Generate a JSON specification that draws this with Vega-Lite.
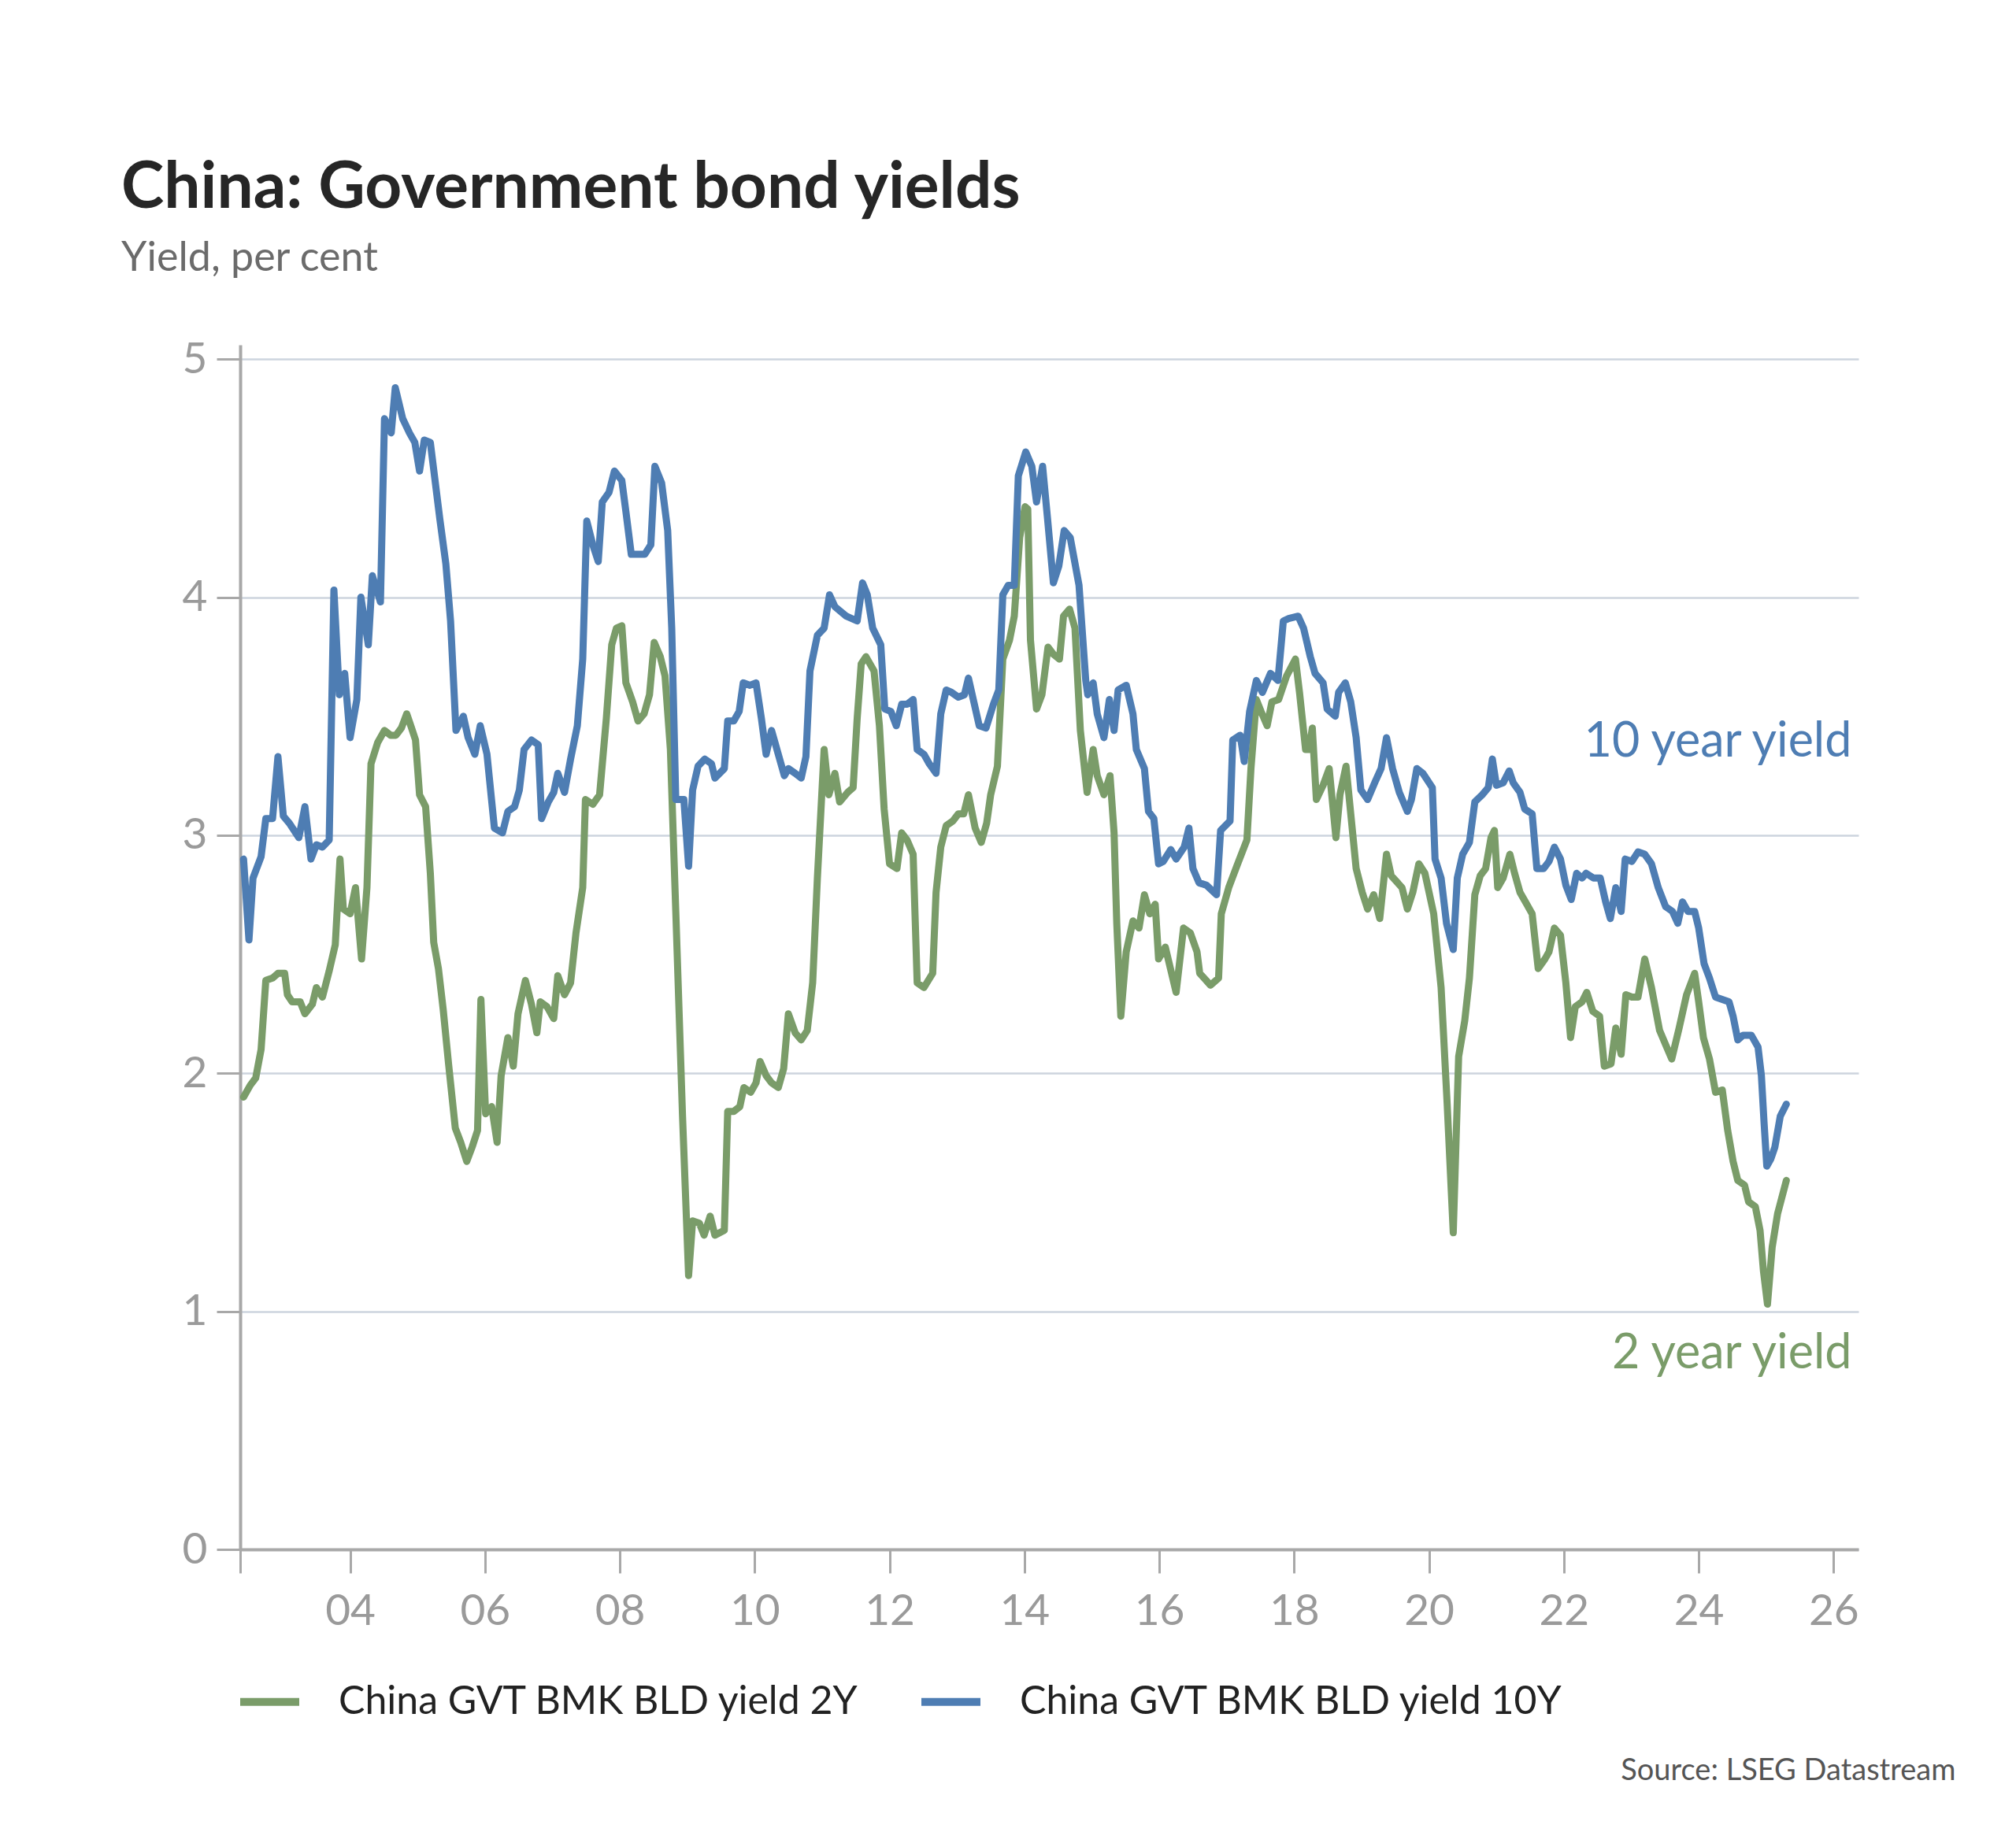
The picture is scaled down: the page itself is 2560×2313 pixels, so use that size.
{
"$schema":"https://vega.github.io/schema/vega-lite/v6.json",
"width":2055,"height":1530,
"autosize":{"type":"none"},
"padding":{"left":305,"top":438,"right":200,"bottom":345},
"background":"white",
"title":{"text":"China: Government bond yields","subtitle":"Yield, per cent","anchor":"start","dx":-77,"offset":74,"font":"Lato","fontSize":82,"fontWeight":"bold","color":"#262626","subtitleFont":"Lato","subtitleFontSize":52,"subtitleColor":"#6b6b6b","subtitlePadding":22},
"config":{"view":{"stroke":null}},
"datasets":{
"yields":[
{"series":"2Y","year":2002.42,"value":1.90},{"series":"2Y","year":2002.52,"value":1.95},{"series":"2Y","year":2002.60,"value":1.98},{"series":"2Y","year":2002.68,"value":2.10},{"series":"2Y","year":2002.75,"value":2.39},{"series":"2Y","year":2002.85,"value":2.40},{"series":"2Y","year":2002.93,"value":2.42},{"series":"2Y","year":2003.03,"value":2.42},{"series":"2Y","year":2003.07,"value":2.33},{"series":"2Y","year":2003.14,"value":2.30},{"series":"2Y","year":2003.26,"value":2.30},{"series":"2Y","year":2003.33,"value":2.25},{"series":"2Y","year":2003.44,"value":2.29},{"series":"2Y","year":2003.50,"value":2.36},{"series":"2Y","year":2003.59,"value":2.32},{"series":"2Y","year":2003.69,"value":2.43},{"series":"2Y","year":2003.78,"value":2.54},{"series":"2Y","year":2003.85,"value":2.90},{"series":"2Y","year":2003.90,"value":2.69},{"series":"2Y","year":2004.00,"value":2.67},{"series":"2Y","year":2004.08,"value":2.78},{"series":"2Y","year":2004.17,"value":2.48},{"series":"2Y","year":2004.25,"value":2.78},{"series":"2Y","year":2004.31,"value":3.30},{"series":"2Y","year":2004.41,"value":3.39},{"series":"2Y","year":2004.51,"value":3.44},{"series":"2Y","year":2004.60,"value":3.42},{"series":"2Y","year":2004.68,"value":3.42},{"series":"2Y","year":2004.76,"value":3.45},{"series":"2Y","year":2004.84,"value":3.51},{"series":"2Y","year":2004.90,"value":3.46},{"series":"2Y","year":2004.97,"value":3.40},{"series":"2Y","year":2005.03,"value":3.17},{"series":"2Y","year":2005.12,"value":3.12},{"series":"2Y","year":2005.19,"value":2.84},{"series":"2Y","year":2005.24,"value":2.55},{"series":"2Y","year":2005.31,"value":2.44},{"series":"2Y","year":2005.38,"value":2.27},{"series":"2Y","year":2005.46,"value":2.04},{"series":"2Y","year":2005.56,"value":1.77},{"series":"2Y","year":2005.64,"value":1.71},{"series":"2Y","year":2005.73,"value":1.63},{"series":"2Y","year":2005.81,"value":1.69},{"series":"2Y","year":2005.89,"value":1.76},{"series":"2Y","year":2005.94,"value":2.31},{"series":"2Y","year":2006.01,"value":1.83},{"series":"2Y","year":2006.10,"value":1.86},{"series":"2Y","year":2006.18,"value":1.71},{"series":"2Y","year":2006.24,"value":1.99},{"series":"2Y","year":2006.34,"value":2.15},{"series":"2Y","year":2006.42,"value":2.03},{"series":"2Y","year":2006.49,"value":2.25},{"series":"2Y","year":2006.60,"value":2.39},{"series":"2Y","year":2006.69,"value":2.29},{"series":"2Y","year":2006.77,"value":2.17},{"series":"2Y","year":2006.82,"value":2.30},{"series":"2Y","year":2006.92,"value":2.28},{"series":"2Y","year":2007.02,"value":2.23},{"series":"2Y","year":2007.08,"value":2.41},{"series":"2Y","year":2007.18,"value":2.33},{"series":"2Y","year":2007.27,"value":2.38},{"series":"2Y","year":2007.35,"value":2.59},{"series":"2Y","year":2007.45,"value":2.78},{"series":"2Y","year":2007.49,"value":3.15},{"series":"2Y","year":2007.60,"value":3.13},{"series":"2Y","year":2007.70,"value":3.17},{"series":"2Y","year":2007.80,"value":3.49},{"series":"2Y","year":2007.88,"value":3.80},{"series":"2Y","year":2007.95,"value":3.87},{"series":"2Y","year":2008.03,"value":3.88},{"series":"2Y","year":2008.09,"value":3.64},{"series":"2Y","year":2008.19,"value":3.56},{"series":"2Y","year":2008.27,"value":3.48},{"series":"2Y","year":2008.36,"value":3.51},{"series":"2Y","year":2008.44,"value":3.59},{"series":"2Y","year":2008.51,"value":3.81},{"series":"2Y","year":2008.60,"value":3.75},{"series":"2Y","year":2008.67,"value":3.67},{"series":"2Y","year":2008.75,"value":3.36},{"series":"2Y","year":2008.83,"value":2.68},{"series":"2Y","year":2008.93,"value":1.82},{"series":"2Y","year":2009.02,"value":1.15},{"series":"2Y","year":2009.08,"value":1.38},{"series":"2Y","year":2009.18,"value":1.37},{"series":"2Y","year":2009.25,"value":1.32},{"series":"2Y","year":2009.34,"value":1.40},{"series":"2Y","year":2009.41,"value":1.32},{"series":"2Y","year":2009.55,"value":1.34},{"series":"2Y","year":2009.60,"value":1.84},{"series":"2Y","year":2009.69,"value":1.84},{"series":"2Y","year":2009.78,"value":1.86},{"series":"2Y","year":2009.84,"value":1.94},{"series":"2Y","year":2009.94,"value":1.92},{"series":"2Y","year":2010.02,"value":1.96},{"series":"2Y","year":2010.08,"value":2.05},{"series":"2Y","year":2010.17,"value":1.99},{"series":"2Y","year":2010.25,"value":1.96},{"series":"2Y","year":2010.35,"value":1.94},{"series":"2Y","year":2010.43,"value":2.02},{"series":"2Y","year":2010.50,"value":2.25},{"series":"2Y","year":2010.60,"value":2.17},{"series":"2Y","year":2010.69,"value":2.14},{"series":"2Y","year":2010.78,"value":2.18},{"series":"2Y","year":2010.86,"value":2.38},{"series":"2Y","year":2010.93,"value":2.82},{"series":"2Y","year":2011.03,"value":3.36},{"series":"2Y","year":2011.10,"value":3.17},{"series":"2Y","year":2011.19,"value":3.26},{"series":"2Y","year":2011.26,"value":3.14},{"series":"2Y","year":2011.38,"value":3.18},{"series":"2Y","year":2011.46,"value":3.20},{"series":"2Y","year":2011.52,"value":3.49},{"series":"2Y","year":2011.58,"value":3.72},{"series":"2Y","year":2011.65,"value":3.75},{"series":"2Y","year":2011.77,"value":3.69},{"series":"2Y","year":2011.85,"value":3.46},{"series":"2Y","year":2011.92,"value":3.11},{"series":"2Y","year":2012.00,"value":2.88},{"series":"2Y","year":2012.11,"value":2.86},{"series":"2Y","year":2012.18,"value":3.01},{"series":"2Y","year":2012.26,"value":2.98},{"series":"2Y","year":2012.35,"value":2.92},{"series":"2Y","year":2012.41,"value":2.38},{"series":"2Y","year":2012.51,"value":2.36},{"series":"2Y","year":2012.64,"value":2.42},{"series":"2Y","year":2012.69,"value":2.76},{"series":"2Y","year":2012.76,"value":2.95},{"series":"2Y","year":2012.84,"value":3.04},{"series":"2Y","year":2012.94,"value":3.06},{"series":"2Y","year":2013.02,"value":3.09},{"series":"2Y","year":2013.10,"value":3.09},{"series":"2Y","year":2013.17,"value":3.17},{"series":"2Y","year":2013.27,"value":3.03},{"series":"2Y","year":2013.36,"value":2.97},{"series":"2Y","year":2013.44,"value":3.05},{"series":"2Y","year":2013.50,"value":3.17},{"series":"2Y","year":2013.60,"value":3.29},{"series":"2Y","year":2013.68,"value":3.74},{"series":"2Y","year":2013.78,"value":3.82},{"series":"2Y","year":2013.85,"value":3.92},{"series":"2Y","year":2013.93,"value":4.25},{"series":"2Y","year":2014.01,"value":4.38},{"series":"2Y","year":2014.05,"value":4.37},{"series":"2Y","year":2014.09,"value":3.82},{"series":"2Y","year":2014.18,"value":3.53},{"series":"2Y","year":2014.26,"value":3.59},{"series":"2Y","year":2014.35,"value":3.79},{"series":"2Y","year":2014.43,"value":3.76},{"series":"2Y","year":2014.52,"value":3.74},{"series":"2Y","year":2014.58,"value":3.92},{"series":"2Y","year":2014.67,"value":3.95},{"series":"2Y","year":2014.75,"value":3.87},{"series":"2Y","year":2014.83,"value":3.44},{"series":"2Y","year":2014.93,"value":3.18},{"series":"2Y","year":2015.02,"value":3.36},{"series":"2Y","year":2015.08,"value":3.25},{"series":"2Y","year":2015.18,"value":3.17},{"series":"2Y","year":2015.27,"value":3.25},{"series":"2Y","year":2015.33,"value":3.01},{"series":"2Y","year":2015.37,"value":2.63},{"series":"2Y","year":2015.43,"value":2.24},{"series":"2Y","year":2015.51,"value":2.51},{"series":"2Y","year":2015.61,"value":2.64},{"series":"2Y","year":2015.70,"value":2.61},{"series":"2Y","year":2015.78,"value":2.75},{"series":"2Y","year":2015.86,"value":2.67},{"series":"2Y","year":2015.94,"value":2.71},{"series":"2Y","year":2015.99,"value":2.48},{"series":"2Y","year":2016.09,"value":2.53},{"series":"2Y","year":2016.25,"value":2.34},{"series":"2Y","year":2016.36,"value":2.61},{"series":"2Y","year":2016.46,"value":2.59},{"series":"2Y","year":2016.56,"value":2.51},{"series":"2Y","year":2016.60,"value":2.42},{"series":"2Y","year":2016.76,"value":2.37},{"series":"2Y","year":2016.88,"value":2.40},{"series":"2Y","year":2016.92,"value":2.67},{"series":"2Y","year":2017.03,"value":2.78},{"series":"2Y","year":2017.15,"value":2.87},{"series":"2Y","year":2017.30,"value":2.98},{"series":"2Y","year":2017.36,"value":3.28},{"series":"2Y","year":2017.44,"value":3.57},{"series":"2Y","year":2017.51,"value":3.52},{"series":"2Y","year":2017.60,"value":3.46},{"series":"2Y","year":2017.67,"value":3.56},{"series":"2Y","year":2017.77,"value":3.57},{"series":"2Y","year":2017.89,"value":3.67},{"series":"2Y","year":2018.02,"value":3.74},{"series":"2Y","year":2018.08,"value":3.60},{"series":"2Y","year":2018.17,"value":3.36},{"series":"2Y","year":2018.22,"value":3.36},{"series":"2Y","year":2018.27,"value":3.45},{"series":"2Y","year":2018.33,"value":3.15},{"series":"2Y","year":2018.43,"value":3.21},{"series":"2Y","year":2018.52,"value":3.28},{"series":"2Y","year":2018.62,"value":2.99},{"series":"2Y","year":2018.68,"value":3.17},{"series":"2Y","year":2018.77,"value":3.29},{"series":"2Y","year":2018.84,"value":3.09},{"series":"2Y","year":2018.92,"value":2.86},{"series":"2Y","year":2019.01,"value":2.76},{"series":"2Y","year":2019.09,"value":2.69},{"series":"2Y","year":2019.18,"value":2.75},{"series":"2Y","year":2019.27,"value":2.65},{"series":"2Y","year":2019.37,"value":2.92},{"series":"2Y","year":2019.44,"value":2.83},{"series":"2Y","year":2019.60,"value":2.78},{"series":"2Y","year":2019.68,"value":2.69},{"series":"2Y","year":2019.76,"value":2.76},{"series":"2Y","year":2019.85,"value":2.88},{"series":"2Y","year":2019.94,"value":2.84},{"series":"2Y","year":2020.07,"value":2.67},{"series":"2Y","year":2020.18,"value":2.36},{"series":"2Y","year":2020.27,"value":1.87},{"series":"2Y","year":2020.36,"value":1.33},{"series":"2Y","year":2020.44,"value":2.07},{"series":"2Y","year":2020.53,"value":2.22},{"series":"2Y","year":2020.60,"value":2.40},{"series":"2Y","year":2020.68,"value":2.75},{"series":"2Y","year":2020.76,"value":2.83},{"series":"2Y","year":2020.84,"value":2.86},{"series":"2Y","year":2020.92,"value":2.99},{"series":"2Y","year":2020.97,"value":3.02},{"series":"2Y","year":2021.02,"value":2.78},{"series":"2Y","year":2021.10,"value":2.82},{"series":"2Y","year":2021.20,"value":2.92},{"series":"2Y","year":2021.27,"value":2.84},{"series":"2Y","year":2021.35,"value":2.76},{"series":"2Y","year":2021.45,"value":2.71},{"series":"2Y","year":2021.53,"value":2.67},{"series":"2Y","year":2021.62,"value":2.44},{"series":"2Y","year":2021.72,"value":2.48},{"series":"2Y","year":2021.78,"value":2.51},{"series":"2Y","year":2021.86,"value":2.61},{"series":"2Y","year":2021.95,"value":2.58},{"series":"2Y","year":2022.03,"value":2.38},{"series":"2Y","year":2022.10,"value":2.15},{"series":"2Y","year":2022.17,"value":2.28},{"series":"2Y","year":2022.27,"value":2.30},{"series":"2Y","year":2022.34,"value":2.34},{"series":"2Y","year":2022.43,"value":2.26},{"series":"2Y","year":2022.53,"value":2.24},{"series":"2Y","year":2022.60,"value":2.03},{"series":"2Y","year":2022.70,"value":2.04},{"series":"2Y","year":2022.77,"value":2.19},{"series":"2Y","year":2022.85,"value":2.08},{"series":"2Y","year":2022.92,"value":2.33},{"series":"2Y","year":2023.01,"value":2.32},{"series":"2Y","year":2023.10,"value":2.32},{"series":"2Y","year":2023.20,"value":2.48},{"series":"2Y","year":2023.30,"value":2.36},{"series":"2Y","year":2023.42,"value":2.18},{"series":"2Y","year":2023.51,"value":2.12},{"series":"2Y","year":2023.60,"value":2.06},{"series":"2Y","year":2023.71,"value":2.19},{"series":"2Y","year":2023.82,"value":2.33},{"series":"2Y","year":2023.94,"value":2.42},{"series":"2Y","year":2024.00,"value":2.30},{"series":"2Y","year":2024.07,"value":2.15},{"series":"2Y","year":2024.16,"value":2.06},{"series":"2Y","year":2024.25,"value":1.92},{"series":"2Y","year":2024.35,"value":1.93},{"series":"2Y","year":2024.43,"value":1.76},{"series":"2Y","year":2024.51,"value":1.63},{"series":"2Y","year":2024.58,"value":1.55},{"series":"2Y","year":2024.68,"value":1.53},{"series":"2Y","year":2024.74,"value":1.46},{"series":"2Y","year":2024.84,"value":1.44},{"series":"2Y","year":2024.91,"value":1.34},{"series":"2Y","year":2024.96,"value":1.17},{"series":"2Y","year":2025.02,"value":1.03},{"series":"2Y","year":2025.09,"value":1.27},{"series":"2Y","year":2025.17,"value":1.41},{"series":"2Y","year":2025.30,"value":1.55},
{"series":"10Y","year":2002.42,"value":2.90},{"series":"10Y","year":2002.50,"value":2.56},{"series":"10Y","year":2002.56,"value":2.82},{"series":"10Y","year":2002.68,"value":2.91},{"series":"10Y","year":2002.75,"value":3.07},{"series":"10Y","year":2002.85,"value":3.07},{"series":"10Y","year":2002.93,"value":3.33},{"series":"10Y","year":2003.01,"value":3.08},{"series":"10Y","year":2003.10,"value":3.05},{"series":"10Y","year":2003.24,"value":2.99},{"series":"10Y","year":2003.33,"value":3.12},{"series":"10Y","year":2003.42,"value":2.90},{"series":"10Y","year":2003.50,"value":2.96},{"series":"10Y","year":2003.59,"value":2.95},{"series":"10Y","year":2003.69,"value":2.98},{"series":"10Y","year":2003.76,"value":4.03},{"series":"10Y","year":2003.84,"value":3.59},{"series":"10Y","year":2003.92,"value":3.68},{"series":"10Y","year":2004.00,"value":3.41},{"series":"10Y","year":2004.10,"value":3.57},{"series":"10Y","year":2004.16,"value":4.00},{"series":"10Y","year":2004.27,"value":3.80},{"series":"10Y","year":2004.33,"value":4.09},{"series":"10Y","year":2004.45,"value":3.98},{"series":"10Y","year":2004.51,"value":4.75},{"series":"10Y","year":2004.61,"value":4.69},{"series":"10Y","year":2004.67,"value":4.88},{"series":"10Y","year":2004.78,"value":4.75},{"series":"10Y","year":2004.88,"value":4.69},{"series":"10Y","year":2004.96,"value":4.65},{"series":"10Y","year":2005.03,"value":4.53},{"series":"10Y","year":2005.10,"value":4.66},{"series":"10Y","year":2005.19,"value":4.65},{"series":"10Y","year":2005.33,"value":4.33},{"series":"10Y","year":2005.42,"value":4.14},{"series":"10Y","year":2005.49,"value":3.90},{"series":"10Y","year":2005.57,"value":3.44},{"series":"10Y","year":2005.68,"value":3.50},{"series":"10Y","year":2005.75,"value":3.41},{"series":"10Y","year":2005.85,"value":3.34},{"series":"10Y","year":2005.93,"value":3.46},{"series":"10Y","year":2006.03,"value":3.34},{"series":"10Y","year":2006.14,"value":3.03},{"series":"10Y","year":2006.26,"value":3.01},{"series":"10Y","year":2006.34,"value":3.10},{"series":"10Y","year":2006.44,"value":3.12},{"series":"10Y","year":2006.51,"value":3.19},{"series":"10Y","year":2006.58,"value":3.36},{"series":"10Y","year":2006.69,"value":3.40},{"series":"10Y","year":2006.79,"value":3.38},{"series":"10Y","year":2006.84,"value":3.07},{"series":"10Y","year":2006.94,"value":3.14},{"series":"10Y","year":2007.02,"value":3.18},{"series":"10Y","year":2007.08,"value":3.26},{"series":"10Y","year":2007.18,"value":3.18},{"series":"10Y","year":2007.27,"value":3.32},{"series":"10Y","year":2007.37,"value":3.46},{"series":"10Y","year":2007.45,"value":3.74},{"series":"10Y","year":2007.51,"value":4.32},{"series":"10Y","year":2007.60,"value":4.22},{"series":"10Y","year":2007.68,"value":4.15},{"series":"10Y","year":2007.74,"value":4.40},{"series":"10Y","year":2007.84,"value":4.44},{"series":"10Y","year":2007.92,"value":4.53},{"series":"10Y","year":2008.03,"value":4.49},{"series":"10Y","year":2008.09,"value":4.36},{"series":"10Y","year":2008.17,"value":4.18},{"series":"10Y","year":2008.27,"value":4.18},{"series":"10Y","year":2008.37,"value":4.18},{"series":"10Y","year":2008.46,"value":4.22},{"series":"10Y","year":2008.52,"value":4.55},{"series":"10Y","year":2008.62,"value":4.48},{"series":"10Y","year":2008.71,"value":4.28},{"series":"10Y","year":2008.77,"value":3.87},{"series":"10Y","year":2008.83,"value":3.15},{"series":"10Y","year":2008.95,"value":3.15},{"series":"10Y","year":2009.02,"value":2.87},{"series":"10Y","year":2009.08,"value":3.19},{"series":"10Y","year":2009.16,"value":3.29},{"series":"10Y","year":2009.26,"value":3.32},{"series":"10Y","year":2009.36,"value":3.30},{"series":"10Y","year":2009.41,"value":3.24},{"series":"10Y","year":2009.55,"value":3.28},{"series":"10Y","year":2009.60,"value":3.48},{"series":"10Y","year":2009.69,"value":3.48},{"series":"10Y","year":2009.77,"value":3.52},{"series":"10Y","year":2009.83,"value":3.64},{"series":"10Y","year":2009.93,"value":3.63},{"series":"10Y","year":2010.02,"value":3.64},{"series":"10Y","year":2010.10,"value":3.49},{"series":"10Y","year":2010.17,"value":3.34},{"series":"10Y","year":2010.25,"value":3.44},{"series":"10Y","year":2010.35,"value":3.34},{"series":"10Y","year":2010.44,"value":3.25},{"series":"10Y","year":2010.50,"value":3.28},{"series":"10Y","year":2010.60,"value":3.26},{"series":"10Y","year":2010.69,"value":3.24},{"series":"10Y","year":2010.76,"value":3.33},{"series":"10Y","year":2010.82,"value":3.69},{"series":"10Y","year":2010.93,"value":3.84},{"series":"10Y","year":2011.03,"value":3.87},{"series":"10Y","year":2011.11,"value":4.01},{"series":"10Y","year":2011.19,"value":3.96},{"series":"10Y","year":2011.36,"value":3.92},{"series":"10Y","year":2011.52,"value":3.90},{"series":"10Y","year":2011.60,"value":4.06},{"series":"10Y","year":2011.67,"value":4.01},{"series":"10Y","year":2011.75,"value":3.87},{"series":"10Y","year":2011.87,"value":3.80},{"series":"10Y","year":2011.93,"value":3.53},{"series":"10Y","year":2012.02,"value":3.52},{"series":"10Y","year":2012.10,"value":3.46},{"series":"10Y","year":2012.18,"value":3.55},{"series":"10Y","year":2012.26,"value":3.55},{"series":"10Y","year":2012.35,"value":3.57},{"series":"10Y","year":2012.41,"value":3.36},{"series":"10Y","year":2012.51,"value":3.34},{"series":"10Y","year":2012.59,"value":3.30},{"series":"10Y","year":2012.69,"value":3.26},{"series":"10Y","year":2012.76,"value":3.51},{"series":"10Y","year":2012.84,"value":3.61},{"series":"10Y","year":2012.92,"value":3.60},{"series":"10Y","year":2013.02,"value":3.58},{"series":"10Y","year":2013.11,"value":3.59},{"series":"10Y","year":2013.17,"value":3.66},{"series":"10Y","year":2013.25,"value":3.56},{"series":"10Y","year":2013.33,"value":3.46},{"series":"10Y","year":2013.43,"value":3.45},{"series":"10Y","year":2013.54,"value":3.55},{"series":"10Y","year":2013.62,"value":3.61},{"series":"10Y","year":2013.68,"value":4.01},{"series":"10Y","year":2013.76,"value":4.05},{"series":"10Y","year":2013.85,"value":4.05},{"series":"10Y","year":2013.91,"value":4.51},{"series":"10Y","year":2014.02,"value":4.61},{"series":"10Y","year":2014.11,"value":4.55},{"series":"10Y","year":2014.18,"value":4.40},{"series":"10Y","year":2014.27,"value":4.55},{"series":"10Y","year":2014.34,"value":4.34},{"series":"10Y","year":2014.43,"value":4.06},{"series":"10Y","year":2014.51,"value":4.13},{"series":"10Y","year":2014.59,"value":4.28},{"series":"10Y","year":2014.68,"value":4.25},{"series":"10Y","year":2014.81,"value":4.05},{"series":"10Y","year":2014.91,"value":3.65},{"series":"10Y","year":2014.94,"value":3.59},{"series":"10Y","year":2015.02,"value":3.64},{"series":"10Y","year":2015.08,"value":3.51},{"series":"10Y","year":2015.18,"value":3.41},{"series":"10Y","year":2015.26,"value":3.57},{"series":"10Y","year":2015.33,"value":3.44},{"series":"10Y","year":2015.39,"value":3.61},{"series":"10Y","year":2015.51,"value":3.63},{"series":"10Y","year":2015.61,"value":3.51},{"series":"10Y","year":2015.66,"value":3.36},{"series":"10Y","year":2015.78,"value":3.28},{"series":"10Y","year":2015.84,"value":3.10},{"series":"10Y","year":2015.92,"value":3.07},{"series":"10Y","year":2015.99,"value":2.88},{"series":"10Y","year":2016.06,"value":2.89},{"series":"10Y","year":2016.17,"value":2.94},{"series":"10Y","year":2016.25,"value":2.90},{"series":"10Y","year":2016.37,"value":2.95},{"series":"10Y","year":2016.44,"value":3.03},{"series":"10Y","year":2016.50,"value":2.86},{"series":"10Y","year":2016.59,"value":2.80},{"series":"10Y","year":2016.70,"value":2.79},{"series":"10Y","year":2016.85,"value":2.75},{"series":"10Y","year":2016.91,"value":3.02},{"series":"10Y","year":2017.05,"value":3.06},{"series":"10Y","year":2017.09,"value":3.40},{"series":"10Y","year":2017.20,"value":3.42},{"series":"10Y","year":2017.26,"value":3.31},{"series":"10Y","year":2017.34,"value":3.52},{"series":"10Y","year":2017.44,"value":3.65},{"series":"10Y","year":2017.53,"value":3.60},{"series":"10Y","year":2017.65,"value":3.68},{"series":"10Y","year":2017.76,"value":3.65},{"series":"10Y","year":2017.84,"value":3.90},{"series":"10Y","year":2017.92,"value":3.91},{"series":"10Y","year":2018.06,"value":3.92},{"series":"10Y","year":2018.14,"value":3.87},{"series":"10Y","year":2018.24,"value":3.75},{"series":"10Y","year":2018.31,"value":3.68},{"series":"10Y","year":2018.43,"value":3.64},{"series":"10Y","year":2018.49,"value":3.53},{"series":"10Y","year":2018.61,"value":3.50},{"series":"10Y","year":2018.66,"value":3.60},{"series":"10Y","year":2018.76,"value":3.64},{"series":"10Y","year":2018.84,"value":3.56},{"series":"10Y","year":2018.92,"value":3.41},{"series":"10Y","year":2018.99,"value":3.19},{"series":"10Y","year":2019.09,"value":3.15},{"series":"10Y","year":2019.21,"value":3.23},{"series":"10Y","year":2019.29,"value":3.28},{"series":"10Y","year":2019.37,"value":3.41},{"series":"10Y","year":2019.46,"value":3.28},{"series":"10Y","year":2019.56,"value":3.18},{"series":"10Y","year":2019.68,"value":3.10},{"series":"10Y","year":2019.74,"value":3.15},{"series":"10Y","year":2019.82,"value":3.28},{"series":"10Y","year":2019.91,"value":3.26},{"series":"10Y","year":2020.05,"value":3.20},{"series":"10Y","year":2020.09,"value":2.90},{"series":"10Y","year":2020.18,"value":2.82},{"series":"10Y","year":2020.26,"value":2.63},{"series":"10Y","year":2020.36,"value":2.52},{"series":"10Y","year":2020.42,"value":2.82},{"series":"10Y","year":2020.50,"value":2.92},{"series":"10Y","year":2020.60,"value":2.97},{"series":"10Y","year":2020.68,"value":3.14},{"series":"10Y","year":2020.79,"value":3.17},{"series":"10Y","year":2020.88,"value":3.20},{"series":"10Y","year":2020.94,"value":3.32},{"series":"10Y","year":2021.00,"value":3.21},{"series":"10Y","year":2021.10,"value":3.22},{"series":"10Y","year":2021.19,"value":3.27},{"series":"10Y","year":2021.25,"value":3.22},{"series":"10Y","year":2021.35,"value":3.18},{"series":"10Y","year":2021.42,"value":3.11},{"series":"10Y","year":2021.53,"value":3.09},{"series":"10Y","year":2021.60,"value":2.86},{"series":"10Y","year":2021.70,"value":2.86},{"series":"10Y","year":2021.78,"value":2.89},{"series":"10Y","year":2021.86,"value":2.95},{"series":"10Y","year":2021.95,"value":2.90},{"series":"10Y","year":2022.03,"value":2.79},{"series":"10Y","year":2022.11,"value":2.73},{"series":"10Y","year":2022.19,"value":2.84},{"series":"10Y","year":2022.27,"value":2.82},{"series":"10Y","year":2022.33,"value":2.84},{"series":"10Y","year":2022.44,"value":2.82},{"series":"10Y","year":2022.54,"value":2.82},{"series":"10Y","year":2022.62,"value":2.72},{"series":"10Y","year":2022.69,"value":2.65},{"series":"10Y","year":2022.77,"value":2.78},{"series":"10Y","year":2022.85,"value":2.68},{"series":"10Y","year":2022.91,"value":2.90},{"series":"10Y","year":2023.01,"value":2.89},{"series":"10Y","year":2023.10,"value":2.93},{"series":"10Y","year":2023.20,"value":2.92},{"series":"10Y","year":2023.30,"value":2.88},{"series":"10Y","year":2023.40,"value":2.78},{"series":"10Y","year":2023.51,"value":2.70},{"series":"10Y","year":2023.61,"value":2.68},{"series":"10Y","year":2023.69,"value":2.63},{"series":"10Y","year":2023.76,"value":2.72},{"series":"10Y","year":2023.84,"value":2.68},{"series":"10Y","year":2023.94,"value":2.68},{"series":"10Y","year":2024.00,"value":2.61},{"series":"10Y","year":2024.08,"value":2.46},{"series":"10Y","year":2024.16,"value":2.40},{"series":"10Y","year":2024.25,"value":2.32},{"series":"10Y","year":2024.35,"value":2.31},{"series":"10Y","year":2024.45,"value":2.30},{"series":"10Y","year":2024.51,"value":2.24},{"series":"10Y","year":2024.58,"value":2.14},{"series":"10Y","year":2024.66,"value":2.16},{"series":"10Y","year":2024.78,"value":2.16},{"series":"10Y","year":2024.88,"value":2.11},{"series":"10Y","year":2024.93,"value":1.99},{"series":"10Y","year":2024.97,"value":1.79},{"series":"10Y","year":2025.01,"value":1.61},{"series":"10Y","year":2025.07,"value":1.64},{"series":"10Y","year":2025.13,"value":1.69},{"series":"10Y","year":2025.21,"value":1.82},{"series":"10Y","year":2025.30,"value":1.87}
],
"labels":[
{"series":"10Y","label":"10 year yield","year":2026.27,"value":3.39},
{"series":"2Y","label":"2 year yield","year":2026.27,"value":0.82}
]},
"layer":[
{"data":{"name":"yields"},
 "mark":{"type":"line","strokeWidth":9,"strokeJoin":"round","strokeCap":"round"},
 "encoding":{
  "x":{"field":"year","type":"quantitative","scale":{"domain":[2002.37,2026.37],"nice":false,"zero":false},
   "axis":{"values":[2002.37,2004,2006,2008,2010,2012,2014,2016,2018,2020,2022,2024,2026],
    "labelExpr":"datum.value < 2003 ? '' : format(datum.value - 2000, '02d')",
    "labelOverlap":false,"labelFlush":false,"grid":false,
    "domainColor":"#a8a8a8","domainWidth":4,"tickColor":"#a8a8a8","tickWidth":3,"tickSize":30,
    "labelFont":"Lato","labelFontSize":55,"labelColor":"#9a9a9a","labelPadding":22,
    "title":"Source: LSEG Datastream","titleAnchor":"end","titleAlign":"right","titleX":2178,"titleY":292,"titleBaseline":"alphabetic",
    "titleFont":"Lato","titleFontSize":38,"titleFontWeight":"normal","titleColor":"#555555"}},
  "y":{"field":"value","type":"quantitative","scale":{"domain":[0,5.06],"nice":false},
   "axis":{"values":[0,1,2,3,4,5],"format":"d","title":null,"grid":true,"gridColor":"#cdd4de","gridWidth":2.5,
    "domainColor":"#a8a8a8","domainWidth":4,"tickColor":"#a8a8a8","tickWidth":3,"tickSize":30,
    "labelFont":"Lato","labelFontSize":55,"labelColor":"#9a9a9a","labelPadding":12}},
  "color":{"field":"series","type":"nominal","scale":{"domain":["2Y","10Y"],"range":["#7a9c69","#4e7db3"]},
   "legend":{"orient":"none","legendX":-5,"legendY":1681,"direction":"horizontal","title":null,
    "symbolType":"stroke","symbolStrokeWidth":10,"symbolSize":5625,
    "labelExpr":"'China GVT BMK BLD yield ' + datum.label","labelLimit":1500,
    "labelFont":"Lato","labelFontSize":50,"labelColor":"#222222","labelOffset":45,"columnPadding":58}}
 }},
{"data":{"name":"labels"},"transform":[{"filter":"datum.series == '10Y'"}],
 "mark":{"type":"text","align":"right","baseline":"middle","font":"Lato","fontSize":61,"color":"#4e7db3"},
 "encoding":{"x":{"field":"year","type":"quantitative"},"y":{"field":"value","type":"quantitative"},"text":{"field":"label"}}},
{"data":{"name":"labels"},"transform":[{"filter":"datum.series == '2Y'"}],
 "mark":{"type":"text","align":"right","baseline":"middle","font":"Lato","fontSize":61,"color":"#7a9c69"},
 "encoding":{"x":{"field":"year","type":"quantitative"},"y":{"field":"value","type":"quantitative"},"text":{"field":"label"}}}
]
}
